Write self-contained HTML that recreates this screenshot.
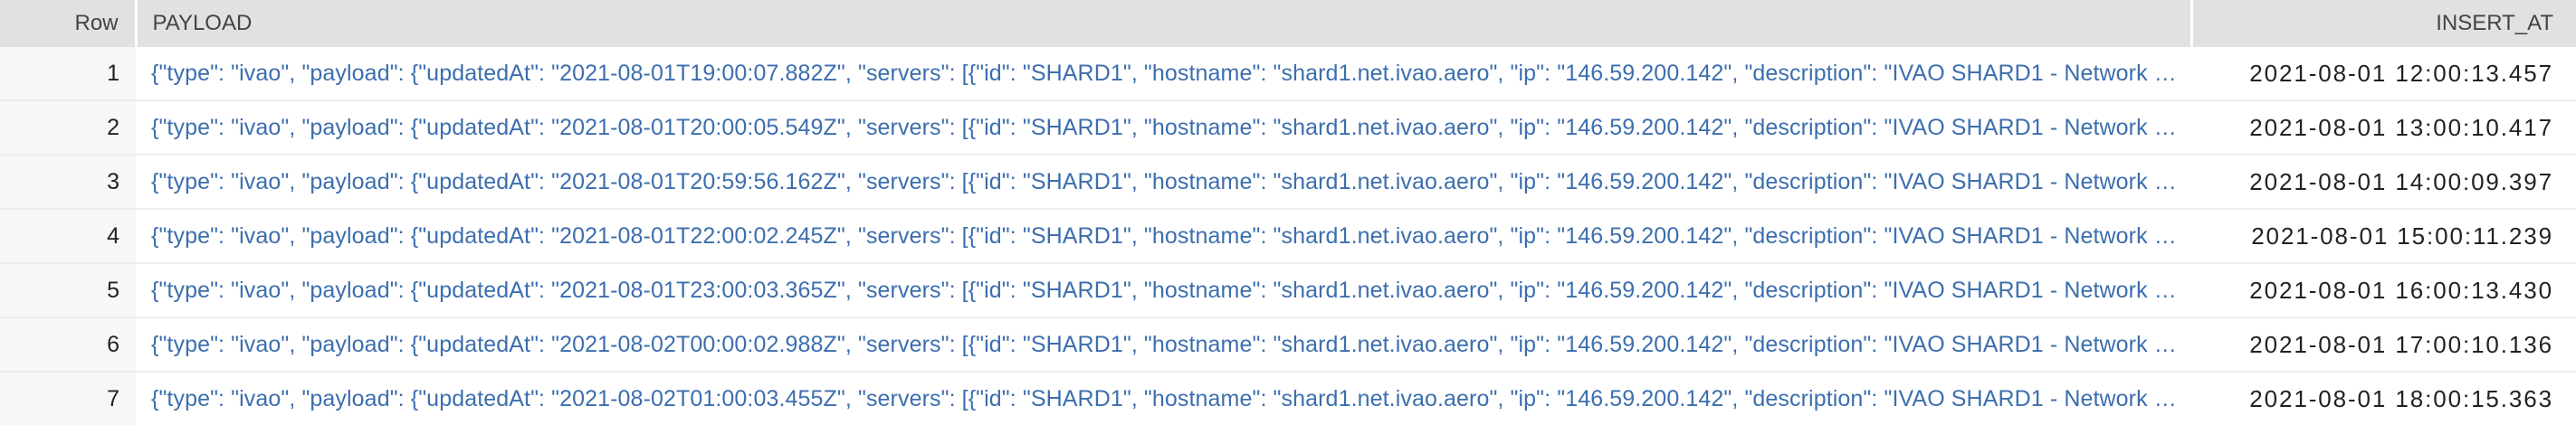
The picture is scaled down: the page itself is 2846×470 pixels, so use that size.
<!DOCTYPE html>
<html><head><meta charset="utf-8"><style>
html,body{margin:0;padding:0;width:2846px;height:470px;overflow:hidden;background:#fff;font-family:"Liberation Sans",sans-serif;}
table{border-collapse:collapse;table-layout:fixed;width:2846px;}
th{background:#e1e1e1;color:#444;font-weight:normal;font-size:24px;height:52px;padding:0;white-space:nowrap;}
th.r{text-align:right;padding-right:18px;border-right:3px solid #fff;}
th.p{text-align:left;padding-left:17px;border-right:3px solid #fff;}
th.i{text-align:right;padding-right:25px;}
td{height:58px;border-bottom:2px solid #ececec;padding:0;white-space:nowrap;overflow:hidden;}
td.r{background:#f7f7f7;text-align:right;padding-right:18px;font-size:25px;color:#222;border-bottom:2px solid #ececec;}
td.p{padding-left:17px;padding-right:14px;color:#3c6eae;font-size:25px;text-overflow:ellipsis;letter-spacing:0.1px;}
td.i{text-align:right;padding-right:25px;font-size:26px;color:#222;letter-spacing:1.9px;}
</style></head><body>
<table>
<colgroup><col style="width:150px"><col style="width:2271px"><col style="width:425px"></colgroup>
<tr><th class="r">Row</th><th class="p">PAYLOAD</th><th class="i">INSERT_AT</th></tr>
<tr><td class="r">1</td><td class="p">{"type": "ivao", "payload": {"updatedAt": "2021-08-01T19:00:07.882Z", "servers": [{"id": "SHARD1", "hostname": "shard1.net.ivao.aero", "ip": "146.59.200.142", "description": "IVAO SHARD1 - Network Server", "countryId": "FR"}]}}</td><td class="i">2021-08-01 12:00:13.457</td></tr>
<tr><td class="r">2</td><td class="p">{"type": "ivao", "payload": {"updatedAt": "2021-08-01T20:00:05.549Z", "servers": [{"id": "SHARD1", "hostname": "shard1.net.ivao.aero", "ip": "146.59.200.142", "description": "IVAO SHARD1 - Network Server", "countryId": "FR"}]}}</td><td class="i">2021-08-01 13:00:10.417</td></tr>
<tr><td class="r">3</td><td class="p">{"type": "ivao", "payload": {"updatedAt": "2021-08-01T20:59:56.162Z", "servers": [{"id": "SHARD1", "hostname": "shard1.net.ivao.aero", "ip": "146.59.200.142", "description": "IVAO SHARD1 - Network Server", "countryId": "FR"}]}}</td><td class="i">2021-08-01 14:00:09.397</td></tr>
<tr><td class="r">4</td><td class="p">{"type": "ivao", "payload": {"updatedAt": "2021-08-01T22:00:02.245Z", "servers": [{"id": "SHARD1", "hostname": "shard1.net.ivao.aero", "ip": "146.59.200.142", "description": "IVAO SHARD1 - Network Server", "countryId": "FR"}]}}</td><td class="i">2021-08-01 15:00:11.239</td></tr>
<tr><td class="r">5</td><td class="p">{"type": "ivao", "payload": {"updatedAt": "2021-08-01T23:00:03.365Z", "servers": [{"id": "SHARD1", "hostname": "shard1.net.ivao.aero", "ip": "146.59.200.142", "description": "IVAO SHARD1 - Network Server", "countryId": "FR"}]}}</td><td class="i">2021-08-01 16:00:13.430</td></tr>
<tr><td class="r">6</td><td class="p">{"type": "ivao", "payload": {"updatedAt": "2021-08-02T00:00:02.988Z", "servers": [{"id": "SHARD1", "hostname": "shard1.net.ivao.aero", "ip": "146.59.200.142", "description": "IVAO SHARD1 - Network Server", "countryId": "FR"}]}}</td><td class="i">2021-08-01 17:00:10.136</td></tr>
<tr><td class="r">7</td><td class="p">{"type": "ivao", "payload": {"updatedAt": "2021-08-02T01:00:03.455Z", "servers": [{"id": "SHARD1", "hostname": "shard1.net.ivao.aero", "ip": "146.59.200.142", "description": "IVAO SHARD1 - Network Server", "countryId": "FR"}]}}</td><td class="i">2021-08-01 18:00:15.363</td></tr>
</table>
</body></html>
